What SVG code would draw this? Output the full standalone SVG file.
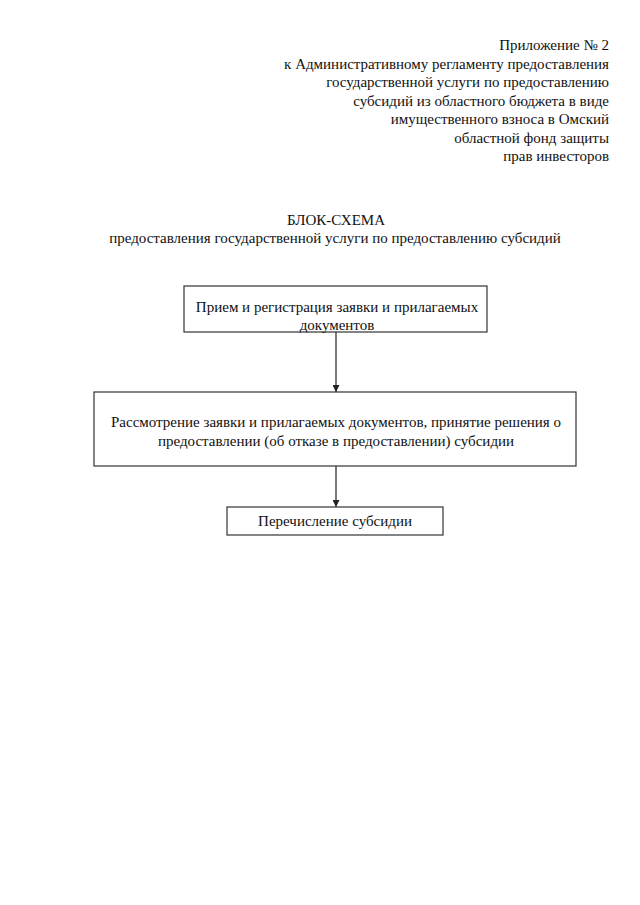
<svg xmlns="http://www.w3.org/2000/svg" width="640" height="905" viewBox="0 0 640 905">
<defs>
<style>
text{font-family:"Liberation Serif","Times New Roman",serif;font-size:15px;fill:#111}
.r{text-anchor:end}
.c{text-anchor:middle}
.box{fill:#fff;stroke:#333;stroke-width:1.2}
.conn{stroke:#222;stroke-width:1.2;fill:none}
</style>
<marker id="arr" viewBox="0 0 10 10" refX="10" refY="5" markerWidth="7" markerHeight="7" orient="auto" markerUnits="userSpaceOnUse">
<path d="M0,0 L10,5 L0,10 z" fill="#222"/>
</marker>
</defs>
<rect width="640" height="905" fill="#fff"/>
<g id="header" font-family="Liberation Serif, serif">
<text class="r" x="609" y="50">Приложение № 2</text>
<text class="r" x="609" y="68.5">к Административному регламенту предоставления</text>
<text class="r" x="609" y="87">государственной услуги по предоставлению</text>
<text class="r" x="609" y="105.5">субсидий из областного бюджета в виде</text>
<text class="r" x="609" y="124">имущественного взноса в Омский</text>
<text class="r" x="609" y="142.5">областной фонд защиты</text>
<text class="r" x="609" y="161">прав инвесторов</text>
</g>
<g id="title">
<text class="c" x="336" y="225">БЛОК-СХЕМА</text>
<text class="c" x="335" y="243">предоставления государственной услуги по предоставлению субсидий</text>
</g>
<g id="connectors">
<line class="conn" x1="336" y1="332" x2="336" y2="392" marker-end="url(#arr)"/>
<line class="conn" x1="336" y1="466" x2="336" y2="507" marker-end="url(#arr)"/>
</g>
<g id="node1">
<rect class="box" x="184" y="286" width="303" height="46"/>
<text class="c" x="337" y="312">Прием и регистрация заявки и прилагаемых</text>
<text class="c" x="337" y="330">документов</text>
</g>
<g id="node2">
<rect class="box" x="94" y="392" width="482" height="74"/>
<text class="c" x="336" y="427">Рассмотрение заявки и прилагаемых документов, принятие решения о</text>
<text class="c" x="336" y="446">предоставлении (об отказе в предоставлении) субсидии</text>
</g>
<g id="node3">
<rect class="box" x="227" y="507" width="216" height="28"/>
<text class="c" x="335" y="526">Перечисление субсидии</text>
</g>
</svg>
